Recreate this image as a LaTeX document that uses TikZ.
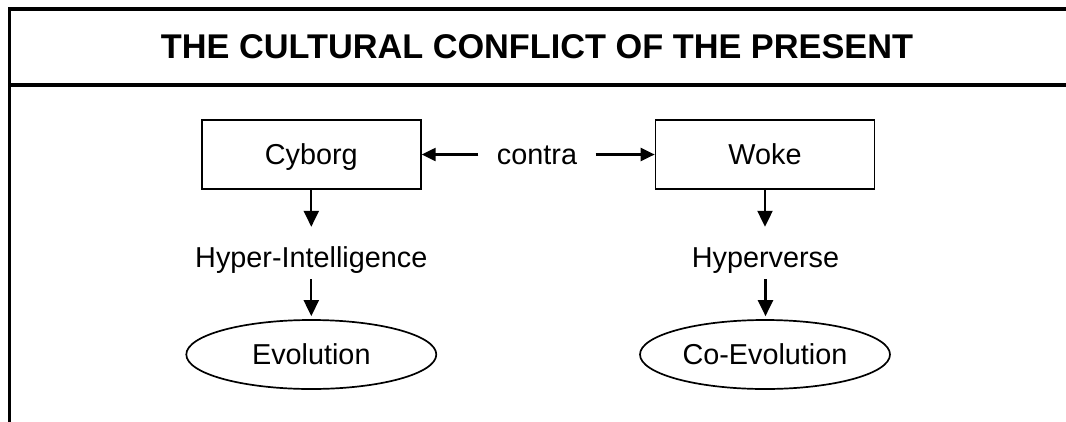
\documentclass[tikz,border=0pt]{standalone}
\usepackage{fontspec}
\setmainfont{Liberation Sans}
\usetikzlibrary{arrows.meta,shapes.geometric}
\begin{document}
\begin{tikzpicture}[x=1pt,y=-1pt,
  frameline/.style={line width=3.5pt},
  titletext/.style={inner sep=0pt,font=\fontsize{34.3}{37}\selectfont\bfseries,text height=24.5pt,text depth=0pt},
  boxnode/.style={draw,line width=1.7pt,minimum width=219pt,minimum height=69pt,inner sep=0pt,font=\fontsize{28.8}{30}\selectfont,text height=20.6pt,text depth=0pt},
  ovalnode/.style={ellipse,draw,line width=1.7pt,minimum width=250pt,minimum height=69pt,inner sep=0pt,font=\fontsize{28.8}{30}\selectfont,text height=20.6pt,text depth=0pt},
  plainlabel/.style={inner ysep=0pt,inner xsep=18.5pt,font=\fontsize{28.8}{30}\selectfont,text height=20.5pt,text depth=6pt},
  varr/.style={line width=2.2pt,-{Triangle[length=16pt,width=15pt]}},
  harr/.style={line width=2.2pt,-{Triangle[length=14pt,width=13pt]}}
]
\useasboundingbox (0,0) rectangle (1066,421);
\fill[white] (0,0) rectangle (1066,421);
% frame
\coordinate (ftr) at (1072,9.2);
\coordinate (ftl) at (9.5,9.2);
\coordinate (fbl) at (9.5,428);
\coordinate (dl) at (9.5,85);
\coordinate (dr) at (1072,85);
\draw[frameline] (ftr) -- (ftl) -- (fbl);
\draw[frameline] (dl) -- (dr);
% title
\node[titletext] (title) at (537,46.3) {THE CULTURAL CONFLICT OF THE PRESENT};
% nodes
\node[boxnode] (cy) at (311.3,154.5) {Cyborg};
\node[boxnode] (wo) at (765,154.5) {Woke};
\node[plainlabel] (contra) at (537,156.75) {contra};
\node[plainlabel,inner xsep=0pt] (hi) at (311.3,259.75) {Hyper-Intelligence};
\node[plainlabel,inner xsep=0pt] (hv) at (765.5,259.75) {Hyperverse};
\node[ovalnode] (ev) at (311.3,354.5) {Evolution};
\node[ovalnode] (cev) at (765,354.5) {Co-Evolution};
% connectors
\draw[harr] (contra.west |- cy.east) -- (cy.east);
\draw[harr] (contra.east |- wo.west) -- (wo.west);
\draw[varr,shorten >=19.5pt] (cy.south) -- (cy.south |- hi.north);
\draw[varr,shorten <=6pt,shorten >=3pt] (hi.south) -- (hi.south |- ev.north);
\draw[varr,shorten >=19.5pt] (wo.south) -- (wo.south |- hv.north);
\draw[varr,shorten <=6pt,shorten >=3pt] (hv.south) -- (hv.south |- cev.north);
\end{tikzpicture}
\end{document}
